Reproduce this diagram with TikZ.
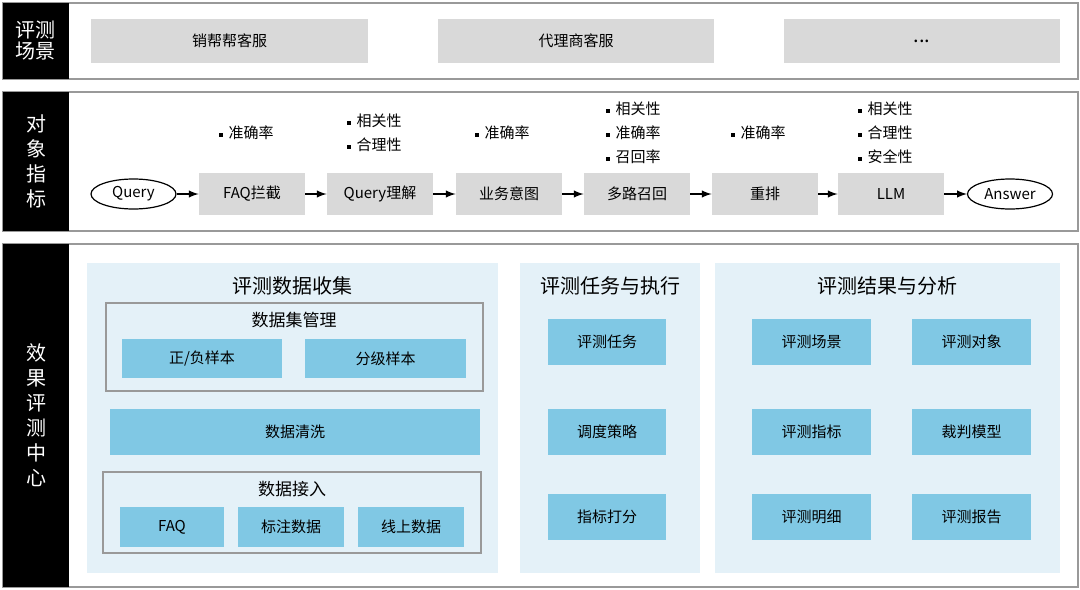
\documentclass[tikz,border=0pt]{standalone}
\usepackage{fontspec}
\setmainfont{Noto Sans CJK SC}
\usetikzlibrary{shapes.geometric}
\definecolor{panelbg}{HTML}{E4F1F8}
\definecolor{cellblue}{HTML}{80C8E4}
\definecolor{cellgray}{HTML}{D9D9D9}
\tikzset{frame/.style={draw=gray!80, line width=0.6pt}}
\tikzset{side/.style={fill=black, text=white, font=\fontsize{10}{12.5}\selectfont, align=center}}
\tikzset{grey box/.style={fill=cellgray, inner sep=0, font=\fontsize{7.5}{9}\selectfont}}
\tikzset{blue box/.style={fill=cellblue, inner sep=0, font=\fontsize{7.5}{9}\selectfont}}
\tikzset{ends/.style={ellipse, draw, line width=0.6pt, inner sep=0, minimum width=42.5pt, minimum height=15pt, font=\fontsize{7.5}{9}\selectfont}}
\tikzset{head/.style={font=\fontsize{10}{12}\selectfont}}
\tikzset{note/.style={font=\fontsize{7.5}{9}\selectfont, inner sep=0.5pt}}
\newcommand{\dotpt}{\rule[0.25ex]{2pt}{2pt}\hspace{3pt}}
\begin{document}
\begin{tikzpicture}[x=0.5pt, y=-0.5pt]
  \useasboundingbox (0,0) rectangle (1080,589);
  % rows
  \draw[frame] (3,3) rectangle (1078,79);
  \draw[frame] (3,92) rectangle (1078,231);
  \draw[frame] (3,244) rectangle (1078,587);
  \node[side, minimum width=33pt, minimum height=38pt] (lab1) at (36,41) {评测\\[-2pt]场景};
  \node[side, minimum width=33pt, minimum height=69.5pt] (lab2) at (36,161.5) {对\\象\\指\\标};
  \node[side, minimum width=33pt, minimum height=171.5pt] (lab3) at (36,415.5) {效\\果\\评\\测\\中\\心};

  % scenes
  \node[grey box, minimum width=138.5pt, minimum height=22pt] (xb) at (229.5,41) {销帮帮客服};
  \node[grey box, minimum width=138pt, minimum height=22pt] (dl) at (576,41) {代理商客服};
  \node[grey box, minimum width=138pt, minimum height=22pt] (more) at (922,41) {\fontsize{10}{12}\selectfont ...};

  % pipeline
  \node[ends] (q) at (133.5,194) {Query};
  \node[grey box, minimum width=53pt, minimum height=21pt] (faq) at (252,194) {FAQ拦截};
  \node[grey box, minimum width=53pt, minimum height=21pt] (qu) at (380,194) {Query理解};
  \node[grey box, minimum width=53pt, minimum height=21pt] (yw) at (509,194) {业务意图};
  \node[grey box, minimum width=53pt, minimum height=21pt] (dl2) at (637,194) {多路召回};
  \node[grey box, minimum width=53pt, minimum height=21pt] (cp) at (765,194) {重排};
  \node[grey box, minimum width=53pt, minimum height=21pt] (llm) at (891,194) {LLM};
  \node[ends] (ans) at (1010,194) {Answer};
  \foreach \a/\b in {q/faq, faq/qu, qu/yw, yw/dl2, dl2/cp, cp/llm, llm/ans}
    \draw[-latex, line width=0.7pt] (\a) -- (\b);

  \node[note] (n1) at (246,133) {\dotpt 准确率};
  \node[note, align=left] (n2) at (374,133) {\dotpt 相关性\\[3pt]\dotpt 合理性};
  \node[note] (n3) at (502,133) {\dotpt 准确率};
  \node[note, align=left] (n4) at (633,133) {\dotpt 相关性\\[3pt]\dotpt 准确率\\[3pt]\dotpt 召回率};
  \node[note] (n5) at (758,133) {\dotpt 准确率};
  \node[note, align=left] (n6) at (885,133) {\dotpt 相关性\\[3pt]\dotpt 合理性\\[3pt]\dotpt 安全性};

  % panels
  \fill[panelbg] (87,263) rectangle (498,573);
  \fill[panelbg] (520,263) rectangle (700,573);
  \fill[panelbg] (715,263) rectangle (1060,573);
  \node[head] (t1) at (292,286) {评测数据收集};
  \node[head] (t2) at (610,286) {评测任务与执行};
  \node[head] (t3) at (887,286) {评测结果与分析};

  \draw[frame] (106,303) rectangle (483,391);
  \node[head, font=\fontsize{8.5}{10}\selectfont] (t4) at (294,320) {数据集管理};
  \node[blue box, minimum width=80pt, minimum height=19.5pt] (zf) at (202,358.5) {正/负样本};
  \node[blue box, minimum width=80.5pt, minimum height=19.5pt] (fj) at (385.5,358.5) {分级样本};
  \node[blue box, minimum width=185pt, minimum height=23pt] (qx) at (295,432) {数据清洗};
  \draw[frame] (103,472) rectangle (481,553);
  \node[head, font=\fontsize{8.5}{10}\selectfont] (t5) at (292,489) {数据接入};
  \node[blue box, minimum width=52pt, minimum height=20pt] (fq) at (172,527) {FAQ};
  \node[blue box, minimum width=53pt, minimum height=20pt] (bz) at (291,527) {标注数据};
  \node[blue box, minimum width=53pt, minimum height=20pt] (xs) at (411,527) {线上数据};

  \foreach \n/\t/\y in {rw/评测任务/342, dd/调度策略/432, df/指标打分/517}
    \node[blue box, minimum width=59pt, minimum height=23pt] (\n) at (607,\y) {\t};
  \foreach \n/\t/\y in {cj/评测场景/342, zb/评测指标/432, mx/评测明细/517}
    \node[blue box, minimum width=59.5pt, minimum height=23pt] (\n) at (811.5,\y) {\t};
  \foreach \n/\t/\y in {dx/评测对象/342, mp/裁判模型/432, bg/评测报告/517}
    \node[blue box, minimum width=59.5pt, minimum height=23pt] (\n) at (971.5,\y) {\t};
\end{tikzpicture}
\end{document}
